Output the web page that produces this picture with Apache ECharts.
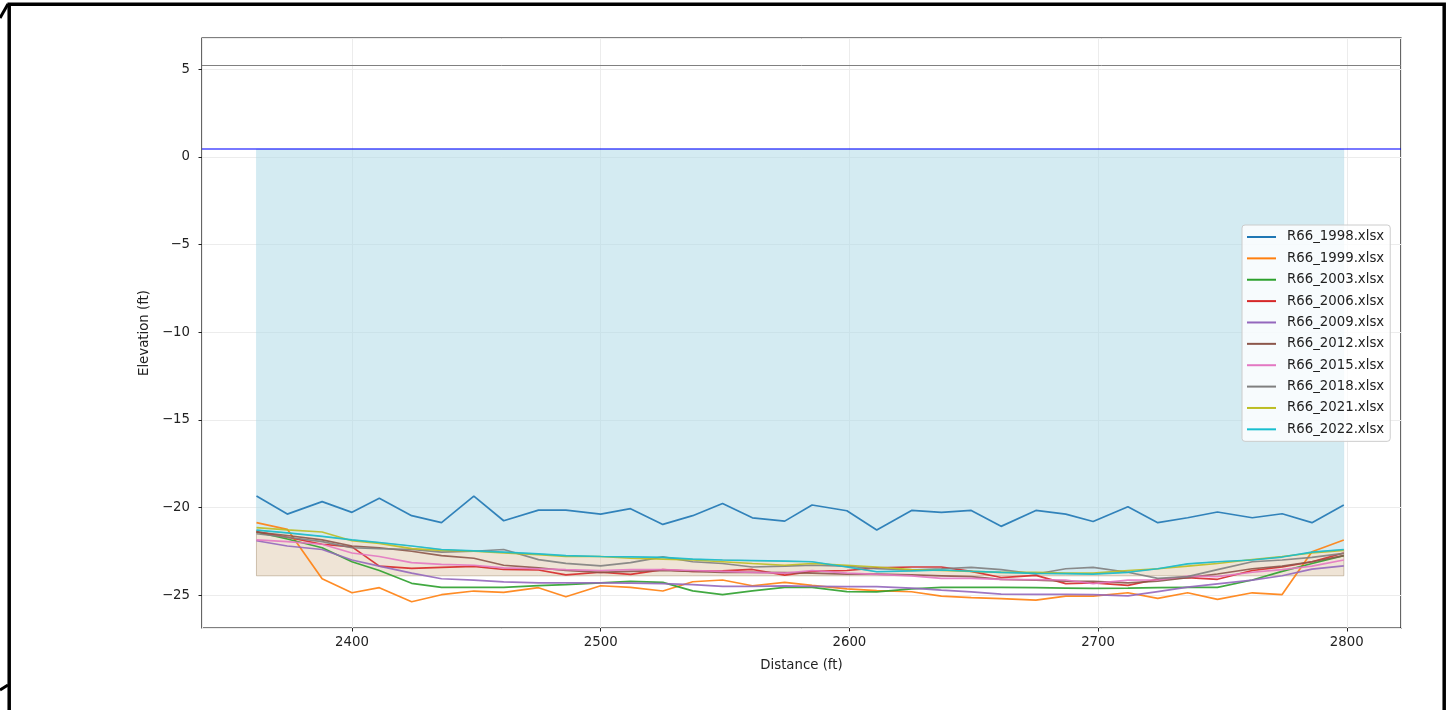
<!DOCTYPE html>
<html>
<head>
<meta charset="utf-8">
<script src="https://cdn.jsdelivr.net/npm/echarts@6/dist/echarts.min.js"></script>
<style>
  html, body { margin: 0; padding: 0; background: #fff; }
  #chart { width: 1453px; height: 710px; }
</style>
</head>
<body>
<div id="chart"></div>
<script>
// Station distances along the R66 cross-section (ft)
const distance = [2361.6, 2374, 2388, 2400, 2411, 2424, 2436, 2449, 2461, 2475,
  2486, 2500, 2512, 2525, 2537, 2549, 2561, 2574, 2585, 2599,
  2611, 2625, 2637, 2649, 2661, 2675, 2687, 2698, 2712, 2724,
  2736, 2748, 2762, 2774, 2786, 2798.8];

// Surveyed bed elevations (ft) per survey file
const elev1998 = [-19.35, -20.38, -19.67, -20.28, -19.48, -20.47, -20.87, -19.35, -20.76, -20.15,
  -20.15, -20.38, -20.07, -20.97, -20.47, -19.77, -20.59, -20.78, -19.86, -20.19,
  -21.29, -20.17, -20.28, -20.17, -21.08, -20.17, -20.38, -20.80, -19.96, -20.87,
  -20.59, -20.26, -20.59, -20.36, -20.87, -19.86];
const elev1999 = [-20.87, -21.25, -24.07, -24.87, -24.58, -25.38, -24.98, -24.77, -24.85, -24.58,
  -25.10, -24.47, -24.56, -24.77, -24.24, -24.14, -24.47, -24.28, -24.45, -24.65,
  -24.75, -24.81, -25.06, -25.15, -25.20, -25.29, -25.06, -25.06, -24.87, -25.19,
  -24.87, -25.25, -24.87, -24.97, -22.53, -21.86];
const elev2003 = [-21.40, -21.80, -22.30, -23.10, -23.60, -24.33, -24.56, -24.56, -24.56, -24.46,
  -24.40, -24.30, -24.22, -24.28, -24.76, -24.98, -24.76, -24.56, -24.56, -24.80,
  -24.82, -24.65, -24.56, -24.56, -24.56, -24.58, -24.60, -24.62, -24.60, -24.58,
  -24.56, -24.56, -24.14, -23.65, -23.20, -22.75];
const elev2006 = [-21.38, -21.70, -22.10, -22.25, -23.35, -23.48, -23.42, -23.36, -23.54, -23.57,
  -23.85, -23.70, -23.82, -23.55, -23.65, -23.62, -23.54, -23.86, -23.65, -23.60,
  -23.45, -23.40, -23.40, -23.65, -24.00, -23.88, -24.35, -24.30, -24.45, -24.10,
  -24.00, -24.10, -23.60, -23.40, -23.10, -22.60];
const elev2009 = [-21.90, -22.20, -22.40, -23.00, -23.35, -23.75, -24.07, -24.15, -24.25, -24.30,
  -24.30, -24.30, -24.32, -24.35, -24.40, -24.50, -24.50, -24.48, -24.50, -24.52,
  -24.52, -24.60, -24.72, -24.82, -24.95, -24.96, -24.96, -24.97, -25.05, -24.80,
  -24.55, -24.36, -24.15, -23.90, -23.52, -23.33];
const elev2012 = [-21.40, -21.60, -21.85, -22.20, -22.30, -22.50, -22.75, -22.90, -23.30, -23.45,
  -23.60, -23.70, -23.65, -23.60, -23.65, -23.70, -23.70, -23.72, -23.75, -23.80,
  -23.80, -23.85, -23.90, -23.95, -24.10, -24.15, -24.20, -24.22, -24.30, -24.20,
  -24.00, -23.80, -23.50, -23.35, -23.10, -22.75];
const elev2015 = [-21.85, -21.95, -22.10, -22.60, -22.80, -23.15, -23.25, -23.30, -23.45, -23.50,
  -23.55, -23.60, -23.55, -23.55, -23.60, -23.65, -23.70, -23.75, -23.60, -23.75,
  -23.82, -23.90, -24.05, -24.05, -24.10, -24.12, -24.14, -24.35, -24.15, -24.14,
  -23.92, -23.95, -23.70, -23.55, -23.35, -23.00];
const elev2018 = [-21.50, -21.70, -21.95, -22.30, -22.35, -22.40, -22.55, -22.50, -22.40, -22.98,
  -23.19, -23.34, -23.15, -22.82, -23.10, -23.20, -23.40, -23.35, -23.30, -23.35,
  -23.50, -23.57, -23.50, -23.42, -23.55, -23.80, -23.50, -23.42, -23.70, -24.05,
  -23.95, -23.55, -23.10, -23.00, -22.85, -22.62];
const elev2021 = [-21.15, -21.28, -21.40, -21.90, -22.05, -22.35, -22.45, -22.50, -22.60, -22.70,
  -22.80, -22.80, -22.90, -22.95, -23.00, -23.10, -23.20, -23.30, -23.20, -23.30,
  -23.40, -23.55, -23.60, -23.65, -23.70, -23.70, -23.75, -23.75, -23.60, -23.50,
  -23.35, -23.20, -22.97, -22.80, -22.60, -22.45];
const elev2022 = [-21.29, -21.45, -21.65, -21.85, -22.00, -22.20, -22.40, -22.48, -22.55, -22.65,
  -22.75, -22.80, -22.82, -22.85, -22.95, -23.00, -23.03, -23.06, -23.10, -23.40,
  -23.67, -23.62, -23.57, -23.64, -23.70, -23.76, -23.78, -23.80, -23.70, -23.50,
  -23.22, -23.10, -23.00, -22.83, -22.55, -22.40];

const surveyNames = ['R66_1998.xlsx', 'R66_1999.xlsx', 'R66_2003.xlsx', 'R66_2006.xlsx', 'R66_2009.xlsx',
  'R66_2012.xlsx', 'R66_2015.xlsx', 'R66_2018.xlsx', 'R66_2021.xlsx', 'R66_2022.xlsx'];
const surveys = [elev1998, elev1999, elev2003, elev2006, elev2009,
  elev2012, elev2015, elev2018, elev2021, elev2022];
const surveyColors = ['#1f77b4', '#ff7f0e', '#2ca02c', '#d62728', '#9467bd',
  '#8c564b', '#e377c2', '#7f7f7f', '#bcbd22', '#17becf'];

// Reference levels (ft)
const bankLevel = 5.25;
const waterLevel = 0.46;
const designDepth = -23.9;

// Axis extents (ft)
const xMin = 2339.7, xMax = 2821.8;
const yMin = -26.88, yMax = 6.79;

const FONT = 'DejaVu Sans';

// Polygon between two profiles, projected through the cartesian axes
function bandSeries(upperAt, lowerAt, fill, stroke) {
  return {
    type: 'custom',
    silent: true,
    z: 1,
    data: [[distance[0], waterLevel]],
    encode: { x: 0, y: 1 },
    renderItem: function (params, api) {
      const pts = [];
      for (let i = 0; i < distance.length; i++) pts.push(api.coord([distance[i], upperAt(i)]));
      for (let i = distance.length - 1; i >= 0; i--) pts.push(api.coord([distance[i], lowerAt(i)]));
      return {
        type: 'polygon',
        shape: { points: pts },
        style: { fill: fill, stroke: stroke, lineWidth: 1 }
      };
    }
  };
}

const series = [
  // water column above the latest bed
  bandSeries(() => waterLevel, i => elev2022[i], 'rgba(173,216,230,0.52)', 'rgba(173,216,230,0.3)'),
  // material above the design depth
  bandSeries(i => elev2022[i], () => designDepth, 'rgba(210,180,140,0.36)', 'rgba(170,150,120,0.55)')
];

surveys.forEach(function (vals, k) {
  const s = {
    name: surveyNames[k],
    type: 'line',
    z: 3,
    showSymbol: false,
    symbol: 'none',
    silent: true,
    data: distance.map((d, i) => [d, vals[i]]),
    lineStyle: { width: 1.7, color: surveyColors[k], opacity: 0.9 },
    itemStyle: { color: surveyColors[k] }
  };
  if (k === 0) {
    s.markLine = {
      silent: true,
      symbol: 'none',
      label: { show: false },
      data: [
        { yAxis: bankLevel, lineStyle: { color: '#808080', width: 1, type: 'solid' } },
        { yAxis: waterLevel, lineStyle: { color: 'rgba(0,0,255,0.7)', width: 1.5, type: 'solid' } }
      ]
    };
  }
  series.push(s);
});

const chart = echarts.init(document.getElementById('chart'), null, { renderer: 'canvas' });

chart.setOption({
  animation: false,
  backgroundColor: '#fff',
  textStyle: { fontFamily: FONT },
  grid: {
    left: 202, right: 52, top: 38, bottom: 82,
    show: true, borderColor: '#000', borderWidth: 1.2, backgroundColor: 'transparent'
  },
  xAxis: {
    type: 'value',
    min: xMin, max: xMax,
    splitNumber: 5,
    name: 'Distance (ft)',
    nameLocation: 'middle',
    nameGap: 31,
    nameTextStyle: { fontSize: 13.3, color: '#222', fontFamily: FONT },
    axisLine: { show: false, onZero: false },
    axisTick: { show: true, inside: false, length: 3.5, lineStyle: { color: '#222' } },
    axisLabel: {
      showMinLabel: false, showMaxLabel: false, margin: 8, fontSize: 13.3, color: '#222', fontFamily: FONT,
      formatter: v => String(v)
    },
    splitLine: { show: true, lineStyle: { color: '#ececec', width: 1 } }
  },
  yAxis: {
    type: 'value',
    min: yMin, max: yMax,
    splitNumber: 6,
    name: 'Elevation (ft)',
    nameLocation: 'middle',
    nameGap: 44,
    nameTextStyle: { fontSize: 13.3, color: '#222', fontFamily: FONT },
    axisLine: { show: false, onZero: false },
    axisTick: { show: true, inside: false, length: 3.5, lineStyle: { color: '#222' } },
    axisLabel: {
      showMinLabel: false, showMaxLabel: false, margin: 12, fontSize: 13.3, color: '#222', fontFamily: FONT,
      formatter: v => (v < 0 ? '\u2212' + Math.abs(v) : String(v))
    },
    splitLine: { show: true, lineStyle: { color: '#ececec', width: 1 } }
  },
  legend: {
    data: surveyNames,
    orient: 'vertical',
    left: 1242, top: 225,
    icon: 'rect',
    itemWidth: 29, itemHeight: 2,
    itemGap: 5.37,
    padding: [4, 6, 4, 5],
    backgroundColor: 'rgba(255,255,255,0.8)',
    borderColor: '#cccccc', borderWidth: 1, borderRadius: 3,
    selectedMode: false,
    textStyle: { fontSize: 13.3, lineHeight: 16, color: '#222', fontFamily: FONT, padding: [0, 0, 0, 6] }
  },
  graphic: [
    { type: 'rect', silent: true, z: 100, shape: { x: 9.2, y: 4.3, width: 1435, height: 730 },
      style: { fill: 'none', stroke: '#000', lineWidth: 3.5 } },
    { type: 'line', silent: true, z: 100, shape: { x1: 0, y1: 18, x2: 8, y2: 4 },
      style: { stroke: '#000', lineWidth: 3 } },
    { type: 'line', silent: true, z: 100, shape: { x1: 0, y1: 690, x2: 8, y2: 685 },
      style: { stroke: '#000', lineWidth: 3 } }
  ],
  series: series
});
</script>
</body>
</html>
